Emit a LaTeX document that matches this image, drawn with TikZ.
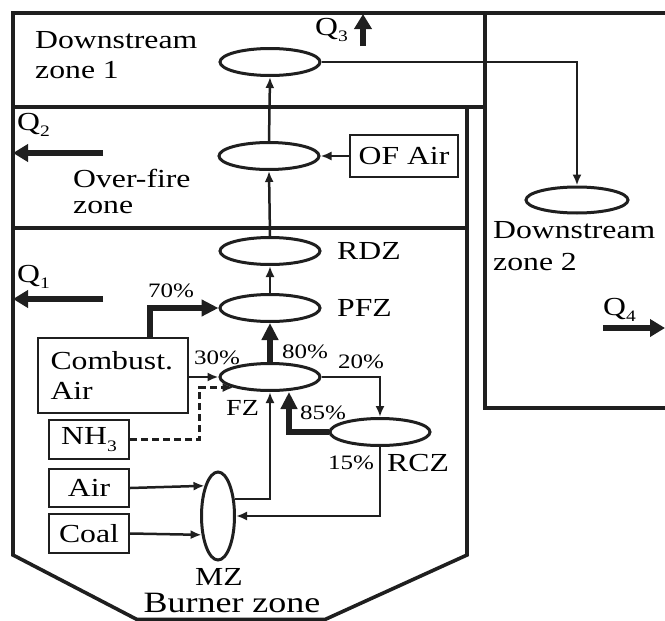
\documentclass[tikz,border=0pt]{standalone}
\usepackage{fontspec}
\setmainfont{Liberation Serif}[FakeStretch=1.22]
\usetikzlibrary{arrows.meta,shapes.geometric}
\newcommand{\qsub}[1]{\raisebox{-0.25em}{\fontsize{16}{16}\selectfont #1}}
\begin{document}
\begin{tikzpicture}[x=1pt,y=-1pt,
  frame/.style={line width=3.6pt,line join=miter,line cap=rect,draw=black!88},
  zone/.style={ellipse,draw=black!88,line width=3pt,minimum width=100pt,minimum height=27pt,inner sep=0pt},
  inbox/.style={draw=black!88,line width=2.4pt,font=\fontsize{26}{30}\selectfont,inner sep=0pt},
  lbl/.style={font=\fontsize{26}{30}\selectfont,inner sep=0pt,align=left},
  pct/.style={font=\fontsize{20.5}{22}\selectfont,inner sep=0pt},
  flow/.style={line width=2.5pt,draw=black!88,-{Latex[length=11pt,width=9pt]}},
  bigflow/.style={line width=6pt,draw=black!88,-{Triangle[length=17pt,width=16pt]}},
  heat/.style={line width=6pt,draw=black!88,-{Triangle[length=15pt,width=17pt]}},
]
\useasboundingbox (0,0) rectangle (665,621);
% frames
\draw[frame] (13,13) -- (666,13);
\draw[frame] (13,13) rectangle (485,107);
\draw[frame] (485,13) -- (485,408) -- (666,408);
\draw[frame] (467,107) -- (467,555) -- (325,619.5) -- (137,619.5) -- (13,555) -- (13,107);
\draw[frame] (13,228) -- (467,228);
% zones
\node[zone] (dz1) at (270,62) {};
\node[zone] (of) at (269,156) {};
\node[zone] (rdz) at (270,251) {};
\node[zone] (pfz) at (270,308) {};
\node[zone] (fz) at (270,377) {};
\node[zone] (rcz) at (380,432) {};
\node[zone,minimum width=33pt,minimum height=88pt] (mz) at (218,516) {};
\node[zone,minimum width=102pt,minimum height=26pt] (dz2) at (577,200) {};
% boxes
\node[inbox,minimum width=108pt,minimum height=42pt] (ofair) at (404,156) {OF Air};
\node[inbox,minimum width=150pt,minimum height=75pt,text width=125pt,inner xsep=12.5pt,align=left] (ca) at (113,375.5) {Combust.\\Air};
\node[inbox,minimum width=80pt,minimum height=39pt] (nh3) at (89,439.5) {NH\qsub{3}};
\node[inbox,minimum width=80pt,minimum height=38pt] (air) at (89,488) {Air};
\node[inbox,minimum width=80pt,minimum height=39pt] (coal) at (89,533.5) {Coal};
% texts
\node[lbl,anchor=north west] (t1) at (35,31) {Downstream\\zone 1};
\node[lbl,anchor=north west] (t2) at (73,169) {Over-fire\\[-4pt]zone};
\node[lbl,anchor=north west] (t3) at (493,221) {Downstream\\[2pt]zone 2};
\node[lbl,anchor=west] (trdz) at (337,251) {RDZ};
\node[lbl,anchor=west] (tpfz) at (337,308) {PFZ};
\node[lbl,anchor=west,font=\fontsize{23}{24}\selectfont] (tfz) at (226,408) {FZ};
\node[lbl,anchor=west] (trcz) at (387,463) {RCZ};
\node[lbl] (tmz) at (219,577) {MZ};
\node[lbl,font=\fontsize{29.5}{30}\selectfont] (tbz) at (232,603) {Burner zone};
\node[pct,anchor=west] (p70) at (148,291) {70\%};
\node[pct,anchor=west] (p80) at (282,352) {80\%};
\node[pct,anchor=west] (p30) at (194,358) {30\%};
\node[pct,anchor=west] (p20) at (338,362) {20\%};
\node[pct,anchor=west] (p85) at (300,413) {85\%};
\node[pct,anchor=west] (p15) at (328,463) {15\%};
\node[lbl,anchor=west] (q1) at (17,277) {Q\qsub{1}};
\node[lbl,anchor=west] (q2) at (17,125) {Q\qsub{2}};
\node[lbl,anchor=west] (q3) at (315,30) {Q\qsub{3}};
\node[lbl,anchor=west] (q4) at (603,310) {Q\qsub{4}};
% heat arrows
\coordinate (q1s) at (103,299); \coordinate (q1e) at (13,299);
\coordinate (q2s) at (103,153); \coordinate (q2e) at (13,153);
\coordinate (q3s) at (363,46); \coordinate (q3e) at (363,14);
\coordinate (q4s) at (603,328); \coordinate (q4e) at (665,328);
\draw[heat] (q1s) -- (q1e);
\draw[heat] (q2s) -- (q2e);
\draw[heat] (q3s) -- (q3e);
\draw[heat] (q4s) -- (q4e);
% connectors
\draw[flow] (of.north) -- (dz1.south);
\draw[flow] (rdz.north) -- (of.south);
\draw[flow] (pfz.north) -- (rdz.south);
\draw[bigflow] (fz.north) -- (pfz.south);
\draw[flow] (ofair.west) -- (of.east);
\draw[flow] (dz1.east) -| (dz2.north);
\draw[bigflow] ([xshift=37pt]ca.north) |- (pfz.west);
\draw[flow] (ca.east |- fz.west) -- (fz.west);
\draw[flow,dash pattern=on 7pt off 4pt,line width=2.8pt] (nh3.east) -| ([xshift=-34pt]fz.south west) -- (fz.south west);
\draw[flow] (fz.east) -| (rcz.north);
\draw[bigflow] (rcz.west) -| ([xshift=19pt]fz.south);
\draw[flow] (mz.46) -| (fz.south);
\draw[flow] (rcz.south) |- (mz.east);
\draw[flow] (air.east) -- (mz.114);
\draw[flow] (coal.east) -- (mz.229);
\end{tikzpicture}
\end{document}
